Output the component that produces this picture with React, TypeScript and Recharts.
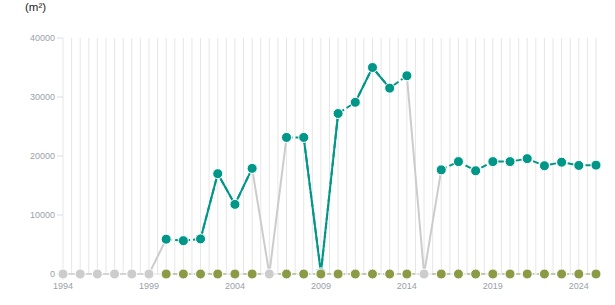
import React from "react";
import { LineChart, Line, XAxis, YAxis, CartesianGrid } from "recharts";

const years = [
  1994, 1995, 1996, 1997, 1998, 1999, 2000, 2001, 2002, 2003, 2004, 2005, 2006, 2007, 2008, 2009,
  2010, 2011, 2012, 2013, 2014, 2015, 2016, 2017, 2018, 2019, 2020, 2021, 2022, 2023, 2024, 2025,
];

// main series (teal), null where the value is zero
const tealValues: (number | null)[] = [
  null, null, null, null, null, null, 5900, 5650, 5950, 17000, 11800, 17900, null, 23150, 23150, 200,
  27200, 29100, 35000, 31500, 33600, null, 17650, 19050, 17500, 19050, 19050, 19550, 18350, 18950, 18400, 18450,
];

// grey connector series (zero years and their neighbours)
const grayValues: (number | null)[] = [
  0, 0, 0, 0, 0, 0, 5900, null, null, null, null, 17900, 0, 23150, null, null,
  null, null, null, null, 33600, 0, 17650, null, null, null, null, null, null, null, null, null,
];

// olive series
const oliveValues: (number | null)[] = [
  null, null, null, null, null, null, 0, 0, 0, 0, 0, 0, null, 0, 0, 0,
  0, 0, 0, 0, 0, null, 0, 0, 0, 0, 0, 0, 0, 0, 0, 0,
];

// years whose connecting segments are drawn solid
const solidRunA = [2002, 2003, 2004, 2005, 2011, 2012, 2013];
const solidRunB = [2008, 2009, 2010];

const xTicks = [1994, 1999, 2004, 2009, 2014, 2019, 2024];
const yTicks = [0, 10000, 20000, 30000, 40000];
const gridTicks: number[] = [];
for (let i = 0; i <= (2025 - 1994) * 2; i++) gridTicks.push(1994 + i / 2);

const data = years.map((year, i) => ({
  year,
  teal: tealValues[i],
  gray: grayValues[i],
  olive: oliveValues[i],
  solidA: solidRunA.includes(year) ? tealValues[i] : null,
  solidB: solidRunB.includes(year) ? tealValues[i] : null,
}));

const TEAL = "#009688";
const GRAY = "#cccccc";
const OLIVE = "#8a9a45";
const FONT = "'Liberation Sans', Arial, sans-serif";
const R = 5;

export default function App() {
  return (
    <div style={{ position: "absolute", left: 0, top: 0, width: 615, height: 305, background: "#fff" }}>
      <div
        style={{
          position: "absolute",
          left: 25,
          top: 1,
          fontFamily: FONT,
          fontSize: 11.5,
          color: "#222",
        }}
      >
        (m²)
      </div>
      <LineChart
        width={615}
        height={305}
        data={data}
        margin={{ top: 38, right: 19, bottom: 6, left: 5 }}
        style={{ fontFamily: FONT }}
      >
        <XAxis
          xAxisId="grid"
          dataKey="year"
          type="number"
          domain={[1994, 2025]}
          ticks={gridTicks}
          interval={0}
          hide
        />
        <CartesianGrid xAxisId="grid" horizontal={false} stroke="#e6e6e6" strokeWidth={1} />
        <XAxis
          dataKey="year"
          type="number"
          domain={[1994, 2025]}
          ticks={xTicks}
          height={25}
          tickSize={6}
          tickMargin={3}
          stroke="#dddddd"
          tickLine={{ stroke: "#dddddd" }}
          axisLine={{ stroke: "#dddddd" }}
          tick={{ fontSize: 9, fill: "#9a9fa8" }}
          interval={0}
        />
        <YAxis
          domain={[0, 40000]}
          ticks={yTicks}
          width={58}
          axisLine={false}
          tickSize={6}
          tickMargin={2}
          tickLine={{ stroke: "#dddddd" }}
          tick={{ fontSize: 9, fill: "#9a9fa8" }}
          interval={0}
        />
        <Line
          dataKey="gray"
          stroke={GRAY}
          strokeWidth={2}
          dot={{ r: R, fill: GRAY, stroke: "#fff", strokeWidth: 1, strokeDasharray: "none" }}
          activeDot={false}
          isAnimationActive={false}
        />
        <Line
          dataKey="teal"
          stroke={TEAL}
          strokeWidth={2}
          strokeDasharray="6 3"
          dot={false}
          activeDot={false}
          isAnimationActive={false}
        />
        <Line
          dataKey="solidA"
          stroke={TEAL}
          strokeWidth={2}
          dot={false}
          activeDot={false}
          isAnimationActive={false}
        />
        <Line
          dataKey="solidB"
          stroke={TEAL}
          strokeWidth={2}
          dot={false}
          activeDot={false}
          isAnimationActive={false}
        />
        <Line
          dataKey="teal"
          stroke="none"
          strokeWidth={0}
          dot={{ r: R, fill: TEAL, stroke: "#fff", strokeWidth: 1, strokeDasharray: "none" }}
          activeDot={false}
          isAnimationActive={false}
        />
        <Line
          dataKey="olive"
          stroke={OLIVE}
          strokeWidth={1.5}
          strokeDasharray="4 3"
          connectNulls
          dot={{ r: R, fill: OLIVE, stroke: "#fff", strokeWidth: 1, strokeDasharray: "none" }}
          activeDot={false}
          isAnimationActive={false}
        />
      </LineChart>
    </div>
  );
}
